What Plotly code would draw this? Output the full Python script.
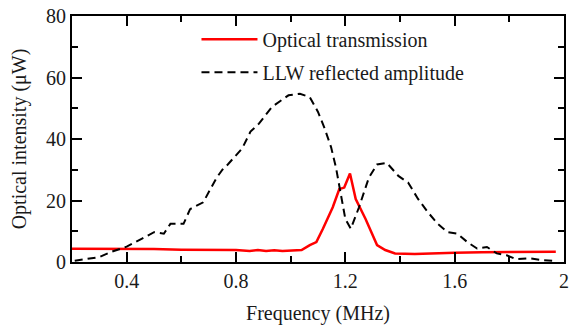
import plotly.graph_objects as go

# LLW reflected amplitude (dashed)
llw_f = [0.21, 0.224, 0.30, 0.344, 0.40, 0.458, 0.50, 0.536, 0.56, 0.608, 0.632, 0.68, 0.729, 0.751, 0.77,
         0.823, 0.853, 0.884, 0.931, 0.992, 1.034, 1.07, 1.10, 1.124, 1.148, 1.166, 1.184, 1.20, 1.22,
         1.25, 1.286, 1.316, 1.352, 1.394, 1.43, 1.466, 1.502, 1.538, 1.574, 1.61, 1.646, 1.682, 1.718,
         1.754, 1.79, 1.826, 1.875, 1.92, 1.97]
llw_v = [0.4, 0.6, 1.6, 3.3, 5.0, 7.7, 9.7, 9.2, 12.4, 12.4, 17.2, 19.4, 27.4, 30.1, 31.7,
         37.0, 42.4, 45.0, 50.4, 54.2, 54.7, 53.6, 48.8, 43.5, 37.3, 30.6, 22.0, 14.0, 10.8,
         17.8, 27.4, 31.7, 32.2, 28.0, 25.8, 20.5, 16.2, 12.4, 9.7, 9.2, 6.5, 4.4, 4.9,
         2.8, 2.2, 0.9, 1.2, 0.6, 0.3]

# Optical transmission (red)
opt_f = [0.20, 0.30, 0.40, 0.50, 0.60, 0.70, 0.80, 0.85, 0.88, 0.91, 0.94, 0.97, 1.00, 1.04, 1.07,
         1.094, 1.118, 1.154, 1.178, 1.196, 1.217, 1.238, 1.274, 1.316, 1.346, 1.382, 1.454, 1.526,
         1.60, 1.70, 1.80, 1.90, 1.97]
opt_v = [4.3, 4.3, 4.2, 4.2, 4.0, 3.9, 3.9, 3.6, 3.9, 3.6, 3.8, 3.6, 3.8, 3.9, 5.5,
         6.5, 10.8, 17.8, 23.7, 24.2, 28.8, 20.5, 14.0, 5.5, 3.9, 2.8, 2.6, 2.9,
         3.0, 3.2, 3.3, 3.3, 3.3]

xtick_vals = [0.4, 0.8, 1.2, 1.6, 2.0]
xtick_text = ["0.4", "0.8", "1.2", "1.6", "2"]
ytick_vals = [0, 20, 40, 60, 80]

FONT = "Liberation Serif"
FS = 20
TXT = "#1a1a1a"

fig = go.Figure()
fig.add_trace(go.Scatter(x=opt_f, y=opt_v, mode="lines", name="Optical transmission",
                         line=dict(color="#ff0000", width=2.5), legendgroup="a"))
fig.add_trace(go.Scatter(x=llw_f, y=llw_v, mode="lines", name="LLW reflected amplitude",
                         line=dict(color="black", width=2, dash="8px,5px"), legendgroup="b"))

axis_common = dict(showline=True, linecolor="black", linewidth=2, mirror="ticks",
                   ticks="inside", ticklen=10, tickwidth=2, tickcolor="black",
                   showgrid=False, zeroline=False,
                   tickfont=dict(family=FONT, size=FS, color=TXT))

fig.update_xaxes(range=[0.2, 2.0], tickvals=xtick_vals, ticktext=xtick_text,
                 minor=dict(ticks="inside", ticklen=6, tickwidth=2, tickcolor="black", dtick=0.2, tick0=0),
                 title=dict(text="Frequency (MHz)", font=dict(family=FONT, size=FS, color=TXT), standoff=15),
                 **axis_common)
fig.update_yaxes(range=[0, 80], tickvals=ytick_vals,
                 minor=dict(ticks="inside", ticklen=6, tickwidth=2, tickcolor="black", dtick=10, tick0=0),
                 title=dict(text="Optical intensity (μW)", font=dict(family=FONT, size=FS, color=TXT), standoff=14),
                 **axis_common)

fig.update_layout(width=574, height=327, margin=dict(l=72, r=5, t=13, b=65),
                  paper_bgcolor="white", plot_bgcolor="white",
                  font=dict(family=FONT, size=FS, color=TXT),
                  legend=dict(x=0.253, y=0.985, xanchor="left", yanchor="top",
                              bgcolor="rgba(0,0,0,0)", traceorder="grouped", tracegroupgap=4,
                              itemwidth=56, font=dict(family=FONT, size=FS, color=TXT)),
                  showlegend=True)

fig.write_html("out.html")
